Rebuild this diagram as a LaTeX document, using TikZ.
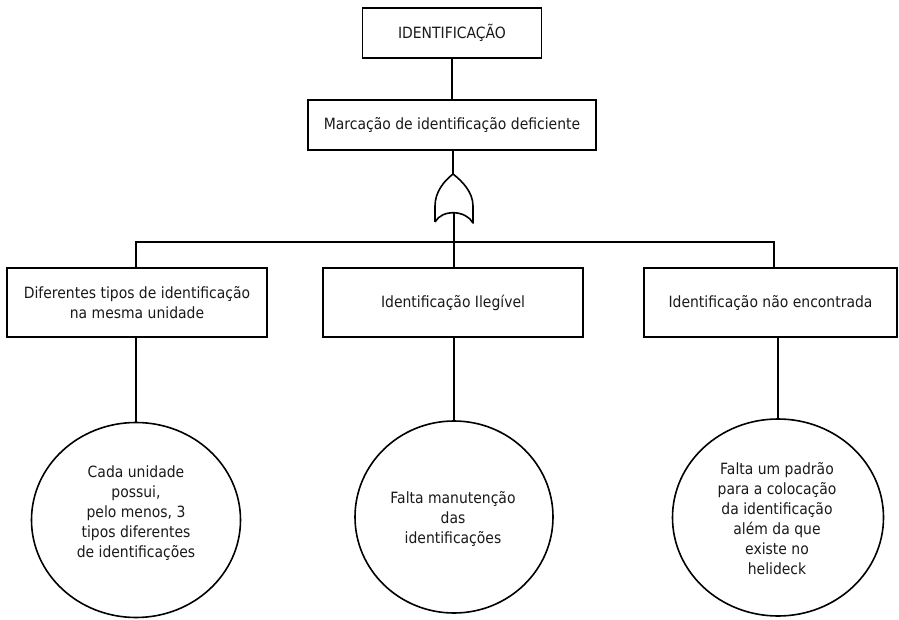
\documentclass[tikz,border=0pt]{standalone}
\usepackage{fontspec}
\setmainfont{DejaVu Sans}[FakeStretch=0.9]
\usetikzlibrary{shapes.geometric}
\begin{document}
\begin{tikzpicture}[x=1pt,y=-1pt,
  every node/.style={font=\fontsize{15.5}{20}\selectfont, text=black!90},
  box/.style={draw, line width=1.8pt, inner sep=0pt, align=center},
  oval/.style={draw, ellipse, line width=1.6pt, inner sep=0pt},
  ovtext/.style={align=center, inner sep=0pt},
  conn/.style={line width=1.8pt}]
\useasboundingbox (0,0) rectangle (899,620);
% boxes
\node[box, minimum width=179pt, minimum height=50pt] (top) at (452,33) {IDENTIFICAÇÃO};
\node[box, minimum width=288pt, minimum height=50pt] (mid) at (452,125) {Marcação de identificação deficiente};
\node[box, minimum width=260pt, minimum height=69pt] (b1) at (137,302.5) {Diferentes tipos de identificação\\na mesma unidade};
\node[box, minimum width=260pt, minimum height=69pt] (b2) at (453,302.5) {Identificação Ilegível};
\node[box, minimum width=253pt, minimum height=69pt] (b3) at (770.5,302.5) {Identificação não encontrada};
% ellipses
\node[oval, minimum width=209pt, minimum height=195pt] (c1) at (136,520) {};
\node[oval, minimum width=198pt, minimum height=192pt] (c2) at (454,517) {};
\node[oval, minimum width=211pt, minimum height=197pt] (c3) at (778,517.5) {};
\node[ovtext] (t1) at (136,513) {Cada unidade\\possui,\\pelo menos, 3\\tipos diferentes\\de identificações};
\node[ovtext] (t2) at (453,519) {Falta manutenção\\das\\identificações};
\node[ovtext] (t3) at (777,519) {Falta um padrão\\para a colocação\\da identificação\\além da que\\existe no\\helideck};
% OR gate
\coordinate (gtop) at (453,174);
\coordinate (gbot) at (454,213);
\draw[line width=1.6pt, line join=round]
  (435,222) -- (435,206) .. controls (435,192) and (444,181) .. (gtop)
  .. controls (462,181) and (473,192) .. (473,206) -- (473,223)
  .. controls (466,210) and (442,209) .. (435,222);
% connectors
\coordinate (d1) at (136,242);
\coordinate (d3) at (774,242);
\draw[conn] (top.south) -- (top.south |- mid.north);
\draw[conn] (gtop |- mid.south) -- (gtop);
\draw[conn] (gbot) -- (gbot |- b2.north);
\draw[conn] (d1 |- b1.north) -- (d1) -- (d3) -- (d3 |- b3.north);
\draw[conn] (c1.north |- b1.south) -- (c1.north);
\draw[conn] (c2.north |- b2.south) -- (c2.north);
\draw[conn] (c3.north |- b3.south) -- (c3.north);
\end{tikzpicture}
\end{document}
